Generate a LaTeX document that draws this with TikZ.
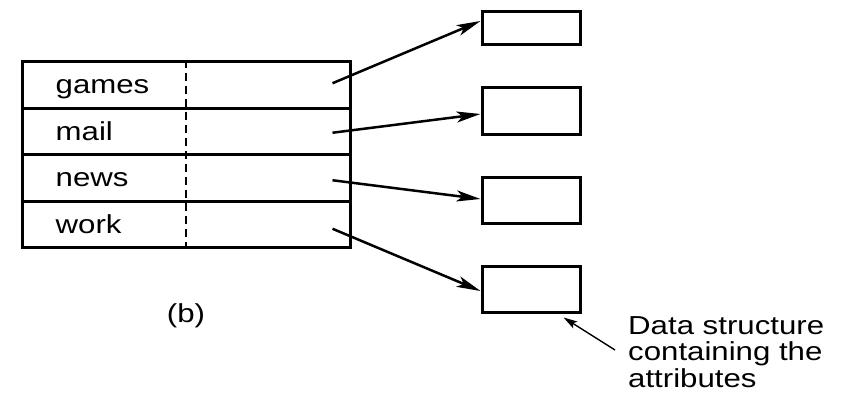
\documentclass[tikz,border=0pt]{standalone}
\usepackage{fontspec}
\setmainfont[FakeStretch=1.2]{Liberation Sans}
\usetikzlibrary{arrows.meta}

\begin{document}
\begin{tikzpicture}[x=1pt,y=1pt,
		cell/.style={draw,line width=3pt,minimum width=328pt,minimum height=46.5pt,inner sep=0pt},
		attr/.style={draw,line width=3pt,minimum width=98pt,inner sep=0pt},
		lbl/.style={font=\fontsize{26}{26.5}\selectfont,inner sep=0pt},
		link/.style={line width=2.5pt,-{Stealth[length=24pt,width=11pt,inset=6pt]}},
		hint/.style={line width=1.4pt,-{Stealth[length=14pt,width=8pt,inset=3pt]}}]
	\useasboundingbox (0,0) rectangle (843,409);

	% directory entries
	\node[cell] (games) at (186,323.75) {};
	\node[cell] (mail) at (186,277.25) {};
	\node[cell] (news) at (186,230.75) {};
	\node[cell] (work) at (186,184.25) {};
	\draw[line width=1.6pt,dash pattern=on 8pt off 5pt] (games.north) -- (work.south);

	\node[lbl,anchor=base west] (tgames) at ([xshift=35pt,yshift=-8.5pt]games.west) {games};
	\node[lbl,anchor=base west] (tmail) at ([xshift=35pt,yshift=-8.5pt]mail.west) {mail};
	\node[lbl,anchor=base west] (tnews) at ([xshift=35pt,yshift=-8.5pt]news.west) {news};
	\node[lbl,anchor=base west] (twork) at ([xshift=35pt,yshift=-8.5pt]work.west) {work};

	\node[lbl,anchor=base] (cap) at (186,86) {(b)};

	% attribute structures
	\node[attr,minimum height=33pt] (a1) at (531,380.5) {};
	\node[attr,minimum height=47pt] (a2) at (531,297.5) {};
	\node[attr,minimum height=46pt] (a3) at (531,208) {};
	\node[attr,minimum height=46pt] (a4) at (531,119) {};

	\draw[link] ([xshift=-19pt,yshift=2pt]games.east) -- ([yshift=7.5pt]a1.west);
	\draw[link] ([xshift=-19pt,yshift=-1pt]mail.east) -- ([yshift=-2.5pt]a2.west);
	\draw[link] ([xshift=-19pt,yshift=-2pt]news.east) -- ([yshift=2pt]a3.west);
	\draw[link] ([xshift=-19pt,yshift=-4pt]work.east) -- ([yshift=-1pt]a4.west);

	\node[lbl,align=left,anchor=west] (ds) at (628,57) {Data structure\\containing the\\attributes};
	\draw[hint] ([xshift=-13pt,yshift=2pt]ds.west) -- ([xshift=-18pt,yshift=-3pt]a4.south east);

\end{tikzpicture}
\end{document}
